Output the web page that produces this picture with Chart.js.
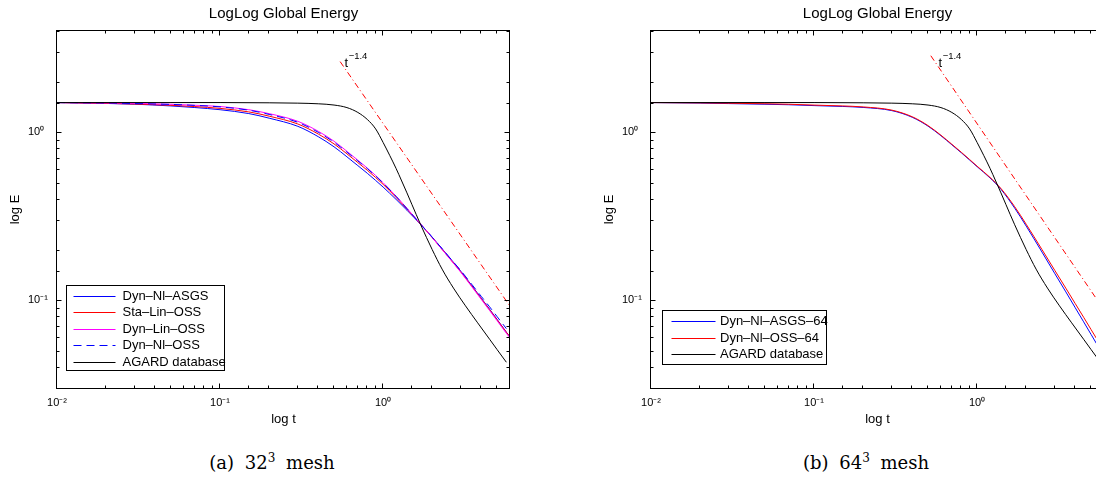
<!DOCTYPE html>
<html>
<head>
<meta charset="utf-8">
<script src="https://cdn.jsdelivr.net/npm/chart.js"></script>
<style>
html,body{margin:0;padding:0;background:#fff;overflow:hidden;width:1096px;height:478px;}
#wrap{position:relative;width:1096px;height:478px;overflow:hidden;background:#fff;}
.panel{position:absolute;top:0;}
.cap{position:absolute;top:453px;height:20px;line-height:20px;font-family:"DejaVu Serif","Liberation Serif",serif;font-size:18px;white-space:nowrap;transform:translateX(-50%);word-spacing:5px;color:#000;}
.cap sup{font-size:12px;vertical-align:baseline;position:relative;top:-7.5px;}
</style>
</head>
<body>
<div id="wrap">
  <div class="panel" style="left:0px"><canvas id="c32" width="567" height="440"></canvas></div>
  <div class="panel" style="left:594px"><canvas id="c64" width="567" height="440"></canvas></div>
  <div class="cap" style="left:272px">(a) 32<sup>3</sup> mesh</div>
  <div class="cap" style="left:866px">(b) 64<sup>3</sup> mesh</div>
</div>
<script>
// ---------- data ----------
const tGrid = [0.01,0.02,0.03,0.05,0.07,0.1,0.15,0.2,0.3,0.4,0.5,0.6,0.7,0.8,0.9,1.0,1.2,1.4,1.7,2.0,2.5,3.0,3.5,4.0,4.5,5.0,5.7,6.0];

// (a) 32^3 mesh
const dynNlAsgs = [1.500,1.482,1.467,1.432,1.401,1.360,1.290,1.211,1.083,0.940,0.818,0.713,0.632,0.569,0.516,0.471,0.398,0.343,0.282,0.237,0.1837,0.1484,0.1221,0.1027,0.0883,0.0768,0.0645,0.0604];
const staLinOss = [1.500,1.485,1.470,1.445,1.420,1.385,1.320,1.245,1.118,0.975,0.851,0.743,0.659,0.593,0.537,0.489,0.409,0.349,0.283,0.236,0.182,0.147,0.121,0.102,0.0877,0.0764,0.0644,0.0604];
const dynLinOss = [1.500,1.492,1.484,1.465,1.446,1.421,1.360,1.289,1.160,1.012,0.883,0.769,0.681,0.611,0.552,0.500,0.416,0.352,0.284,0.236,0.1816,0.1463,0.1202,0.1011,0.0867,0.0755,0.0635,0.0596];
const dynNlOss  = [1.500,1.492,1.480,1.462,1.443,1.414,1.351,1.275,1.144,0.998,0.871,0.760,0.674,0.607,0.548,0.498,0.415,0.351,0.283,0.237,0.184,0.1497,0.1241,0.1053,0.0912,0.0798,0.0677,null];

// (b) 64^3 mesh
const dynNlAsgs64 = [1.500,1.490,1.479,1.466,1.456,1.439,1.422,1.403,1.343,1.226,1.086,0.952,0.841,0.754,0.682,0.623,0.534,0.457,0.353,0.276,0.1932,0.1436,0.1120,0.0900,0.0743,0.0625,0.0504,0.0462];
const dynNlOss64  = [1.500,1.493,1.486,1.476,1.466,1.449,1.432,1.413,1.352,1.235,1.094,0.959,0.847,0.759,0.687,0.627,0.538,0.462,0.360,0.283,0.200,0.150,0.1178,0.0953,0.0791,0.0668,0.0542,0.0500];

// AGARD database (both panels)
const tAgard = [0.01,0.05,0.1,0.2,0.3,0.4,0.5,0.6,0.7,0.8,0.9,1.0,1.1,1.2,1.3,1.4,1.5,1.7,2.0,2.3,2.7,3.2,3.8,4.5,5.0,5.7];
const agard  = [1.50,1.50,1.50,1.495,1.488,1.475,1.45,1.40,1.31,1.19,1.045,0.868,0.724,0.609,0.512,0.435,0.372,0.281,0.200,0.153,0.118,0.0925,0.0733,0.0585,0.0508,0.0427];

// t^-1.4 reference lines (end points)
const refT32 = [0.545, 6.0];
const refE32 = [2.63, 0.092];
const refT64 = [0.52, 6.0];
const refE64 = [2.85, 0.0875];
const refLabelText = 't';
const refLabelExp = '\u22121.4';
const refLabelAt32 = {t: 0.58, e: 2.45};
const refLabelAt64 = {t: 0.58, e: 2.45};

// axes
const titleText = 'LogLog Global Energy';
const xTitle = 'log t';
const yTitle = 'log E';
const xMin = 0.01, xMax = 6;
const yMin = 0.03, yMax = 4;
const xMajorTicks = [0.01, 0.1, 1];
const xTickLabels = ['10\u207B\u00B2', '10\u207B\u00B9', '10\u2070'];
const yMajorTicks = [0.1, 1];
const yTickLabels = ['10\u207B\u00B9', '10\u2070'];

// ---------- drawing ----------
const FONT = '"Liberation Sans", Arial, Helvetica, sans-serif';

function pairs(xs, ys) {
  const out = [];
  xs.forEach((x, i) => { if (ys[i] != null) out.push({x: x, y: ys[i]}); });
  return out;
}
function majorIndex(v, majors) {
  return majors.findIndex(m => Math.abs(v - m) <= m * 1e-6);
}
function tickLabel(v, majors, labels) {
  const i = majorIndex(v, majors);
  return i >= 0 ? labels[i] : '';
}

const boxTicksPlugin = {
  id: 'boxTicks',
  afterDatasetsDraw(chart) {
    const {ctx, chartArea: a, scales: {x, y}} = chart;
    const L = Math.round(a.left) - 0.5, R = Math.round(a.right) - 0.5;
    const T = Math.round(a.top) - 0.5, B = Math.round(a.bottom) + 0.5;
    ctx.save();
    ctx.strokeStyle = '#000';
    ctx.lineWidth = 1;
    ctx.setLineDash([]);
    ctx.beginPath();
    for (const t of x.ticks) {
      const px = Math.round(x.getPixelForValue(t.value)) - 0.5;
      const len = majorIndex(t.value, xMajorTicks) >= 0 ? 5 : 3;
      ctx.moveTo(px, B); ctx.lineTo(px, B - len);
      ctx.moveTo(px, T); ctx.lineTo(px, T + len);
    }
    for (const t of y.ticks) {
      const py = Math.round(y.getPixelForValue(t.value)) + 0.5;
      const len = majorIndex(t.value, yMajorTicks) >= 0 ? 5 : 3;
      ctx.moveTo(L, py); ctx.lineTo(L + len, py);
      ctx.moveTo(R, py); ctx.lineTo(R - len, py);
    }
    ctx.stroke();
    ctx.strokeRect(L, T, R - L, B - T);
    ctx.restore();
  }
};

const refLabelPlugin = {
  id: 'refLabel',
  afterDatasetsDraw(chart, args, o) {
    const {ctx, scales: {x, y}} = chart;
    const px = x.getPixelForValue(o.t), py = y.getPixelForValue(o.e);
    ctx.save();
    ctx.fillStyle = '#000';
    ctx.textAlign = 'left';
    ctx.textBaseline = 'alphabetic';
    ctx.font = '13px ' + FONT;
    ctx.fillText(refLabelText, px, py);
    const w = ctx.measureText(refLabelText).width;
    ctx.font = '9.5px ' + FONT;
    ctx.fillText(refLabelExp, px + w + 0.5, py - 8);
    ctx.restore();
  }
};

const legendPlugin = {
  id: 'boxLegend',
  afterDraw(chart, args, o) {
    const {ctx, chartArea: a} = chart;
    const bx = Math.round(a.left + o.dx) + 0.5, by = Math.round(a.top + o.dy) + 0.5;
    ctx.save();
    ctx.fillStyle = '#fff';
    ctx.fillRect(bx, by, o.w, o.h);
    ctx.strokeStyle = '#000';
    ctx.lineWidth = 1;
    ctx.setLineDash([]);
    ctx.strokeRect(bx, by, o.w, o.h);
    ctx.font = '13px ' + FONT;
    ctx.textBaseline = 'middle';
    ctx.textAlign = 'left';
    chart.data.datasets.filter(d => d.inLegend).forEach((d, i) => {
      const yy = Math.round(by + o.row0 + i * o.gap) + 0.5;
      ctx.strokeStyle = d.legendColor;
      ctx.lineWidth = 1;
      ctx.setLineDash(d.legendDash.slice());
      ctx.beginPath();
      ctx.moveTo(bx + o.l0, yy);
      ctx.lineTo(bx + o.l1, yy);
      ctx.stroke();
      ctx.fillStyle = '#000';
      ctx.fillText(d.label, bx + o.tx, yy);
    });
    ctx.restore();
  }
};

function buildChart(id, series, refT, refE, labelAt, legendOpts) {
  const datasets = series.map((s, i) => ({
    label: s.label,
    data: pairs(s.t, s.v),
    xAxisID: 'x', yAxisID: 'y',
    borderColor: s.color,
    backgroundColor: s.color,
    borderWidth: 1,
    borderDash: s.dash || [],
    pointRadius: 0,
    fill: false,
    cubicInterpolationMode: 'monotone',
    inLegend: true,
    legendColor: s.color,
    legendDash: s.dash || [],
    order: 100 - i
  }));
  datasets.push({
    label: 't^-1.4',
    data: pairs(refT, refE),
    xAxisID: 'x', yAxisID: 'y',
    borderColor: '#ff0000',
    backgroundColor: '#ff0000',
    borderWidth: 1,
    borderDash: [6, 3, 1, 3],
    pointRadius: 0,
    fill: false,
    inLegend: false,
    order: 0
  });
  const noGrid = {display: false, drawTicks: false};
  return new Chart(document.getElementById(id), {
    type: 'line',
    data: {datasets},
    options: {
      responsive: false,
      animation: false,
      devicePixelRatio: 1,
      events: [],
      layout: {padding: 0},
      plugins: {
        legend: {display: false},
        tooltip: {enabled: false},
        colors: {enabled: false},
        title: {display: true, text: titleText, color: '#000',
                font: {family: FONT, size: 15, weight: 'normal'},
                padding: {top: 5, bottom: 8}},
        boxLegend: legendOpts,
        refLabel: labelAt
      },
      scales: {
        x: {
          type: 'logarithmic', position: 'bottom', min: xMin, max: xMax,
          afterFit: s => { s.height = 52; },
          grid: noGrid, border: {display: false},
          ticks: {autoSkip: false, maxRotation: 0, minRotation: 0, padding: 8, color: '#000',
                  font: {family: FONT, size: 11},
                  callback: v => tickLabel(v, xMajorTicks, xTickLabels)},
          title: {display: true, text: xTitle, color: '#000', font: {family: FONT, size: 13},
                  padding: {top: 0, bottom: 13}}
        },
        y: {
          type: 'logarithmic', position: 'left', weight: 0, min: yMin, max: yMax,
          afterFit: s => { s.width = 29; },
          grid: noGrid, border: {display: false},
          ticks: {autoSkip: false, crossAlign: 'far', padding: 0, color: '#000',
                  font: {family: FONT, size: 11},
                  callback: v => tickLabel(v, yMajorTicks, yTickLabels)}
        },
        yL: {
          axis: 'y', type: 'linear', position: 'left', weight: 1,
          afterFit: s => { s.width = 28; },
          grid: noGrid, border: {display: false}, ticks: {display: false},
          title: {display: true, text: yTitle, color: '#000', font: {family: FONT, size: 13},
                  padding: {top: 8, bottom: 0}}
        },
        yR: {
          axis: 'y', type: 'linear', position: 'right', weight: 0,
          afterFit: s => { s.width = 57; },
          grid: noGrid, border: {display: false}, ticks: {display: false}
        }
      }
    },
    plugins: [boxTicksPlugin, refLabelPlugin, legendPlugin]
  });
}

buildChart('c32', [
  {label: 'Dyn\u2013Nl\u2013ASGS', t: tGrid, v: dynNlAsgs, color: '#0000ff'},
  {label: 'Sta\u2013Lin\u2013OSS', t: tGrid, v: staLinOss, color: '#ff0000'},
  {label: 'Dyn\u2013Lin\u2013OSS', t: tGrid, v: dynLinOss, color: '#ff00ff'},
  {label: 'Dyn\u2013Nl\u2013OSS', t: tGrid, v: dynNlOss, color: '#0000ff', dash: [8, 5]},
  {label: 'AGARD database', t: tAgard, v: agard, color: '#000000'}
], refT32, refE32, refLabelAt32,
  {dx: 9, dy: 254, w: 158, h: 85, row0: 10.5, gap: 16.4, l0: 7, l1: 49, tx: 56});

buildChart('c64', [
  {label: 'Dyn\u2013Nl\u2013ASGS\u201364', t: tGrid, v: dynNlAsgs64, color: '#0000ff'},
  {label: 'Dyn\u2013Nl\u2013OSS\u201364', t: tGrid, v: dynNlOss64, color: '#ff0000'},
  {label: 'AGARD database', t: tAgard, v: agard, color: '#000000'}
], refT64, refE64, refLabelAt64,
  {dx: 11, dy: 279, w: 164, h: 54, row0: 10.7, gap: 16.3, l0: 9, l1: 53, tx: 57.5});
</script>
</body>
</html>
